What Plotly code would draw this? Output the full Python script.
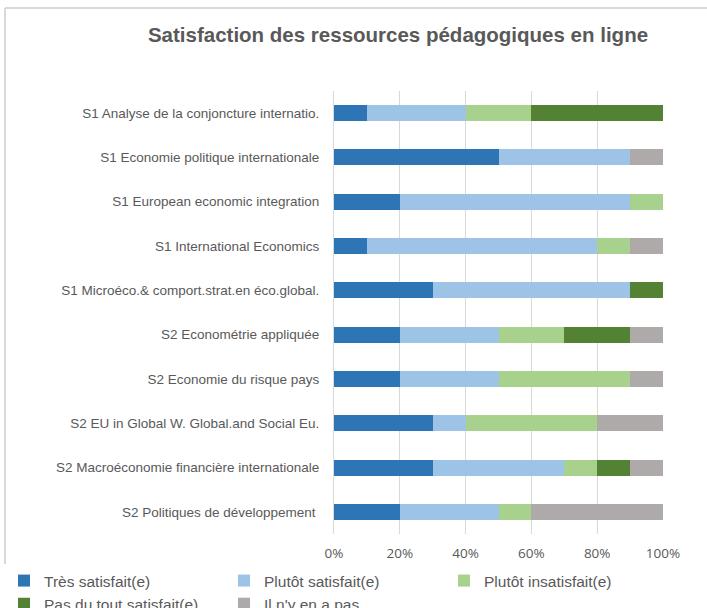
import plotly.graph_objects as go

categories = [
    "S1 Analyse de la conjoncture internatio.",
    "S1 Economie politique internationale",
    "S1 European economic integration",
    "S1 International Economics",
    "S1 Microéco.& comport.strat.en éco.global.",
    "S2 Econométrie appliquée",
    "S2 Economie du risque pays",
    "S2 EU in Global W. Global.and Social Eu.",
    "S2 Macroéconomie financière internationale",
    "S2 Politiques de développement ",
]

tres_satisfait = [10, 50, 20, 10, 30, 20, 20, 30, 30, 20]
plutot_satisfait = [30, 40, 70, 70, 60, 30, 30, 10, 40, 30]
plutot_insatisfait = [20, 0, 10, 10, 0, 20, 40, 40, 10, 10]
pas_du_tout = [40, 0, 0, 0, 10, 20, 0, 0, 10, 0]
il_ny_en_a_pas = [0, 10, 0, 10, 0, 10, 10, 20, 10, 40]

series_names = ["Très satisfait(e)", "Plutôt satisfait(e)", "Plutôt insatisfait(e)",
                "Pas du tout satisfait(e)", "Il n'y en a pas"]
series_values = [tres_satisfait, plutot_satisfait, plutot_insatisfait, pas_du_tout, il_ny_en_a_pas]
colors = ["#2E75B6", "#9DC3E6", "#A9D18E", "#548235", "#AEAAAA"]

fig = go.Figure()
for name, vals, col in zip(series_names, series_values, colors):
    fig.add_trace(go.Bar(
        y=categories, x=[v / 100 for v in vals], name=name, orientation="h",
        marker=dict(color=col, line=dict(width=0)),
    ))

L, R, T, B = 334, 44, 91, 74
W, H = 707, 608
pw, ph = W - L - R, H - T - B

def px_x(p):
    return (p - L) / pw

def px_y(p):
    return (H - B - p) / ph

fig.update_layout(
    width=W, height=H,
    barmode="stack", bargap=0.64,
    margin=dict(l=L, r=R, t=T, b=B, autoexpand=False),
    paper_bgcolor="white", plot_bgcolor="white",
    font=dict(family="Liberation Sans, Arial, sans-serif", color="#595959"),
    title=dict(text="<b>Satisfaction des ressources pédagogiques en ligne</b>",
               x=398 / W, xanchor="center", xref="container",
               y=1 - 35 / H, yanchor="middle",
               font=dict(size=20.5, color="#595959")),
    xaxis=dict(range=[0, 1], tickvals=[0, 0.2, 0.4, 0.6, 0.8, 1.0],
               ticktext=["0%", "20%", "40%", "60%", "80%", "100%"],
               showgrid=True, gridcolor="#D9D9D9", gridwidth=1,
               zeroline=False, showline=False, ticks="",
               ticklabelstandoff=9,
               tickfont=dict(size=13.5, color="#595959", family="Open Sans, Liberation Sans, sans-serif"),
               fixedrange=True),
    yaxis=dict(autorange="reversed", showgrid=False, zeroline=False,
               showline=True, linecolor="#D9D9D9", linewidth=1,
               ticks="", ticklabelstandoff=11,
               tickfont=dict(size=13.5, color="#595959")),
    legend=dict(orientation="h", x=px_x(4), xanchor="left", y=px_y(564), yanchor="top",
                entrywidth=175, entrywidthmode="pixels",
                font=dict(size=15.5, color="#595959"),
                itemwidth=30, traceorder="normal", tracegroupgap=0),
    showlegend=True,
)

# chart border (cropped Excel frame)
fig.add_shape(type="line", xref="paper", yref="paper",
              x0=px_x(5), x1=px_x(712), y0=px_y(8), y1=px_y(8),
              line=dict(color="#D9D9D9", width=2))
fig.add_shape(type="line", xref="paper", yref="paper",
              x0=px_x(5), x1=px_x(5), y0=px_y(8), y1=px_y(612),
              line=dict(color="#D9D9D9", width=2))

fig.write_html("out.html", config={"displayModeBar": False},
               post_script="document.body.style.margin='0';document.body.style.overflow='hidden';")
